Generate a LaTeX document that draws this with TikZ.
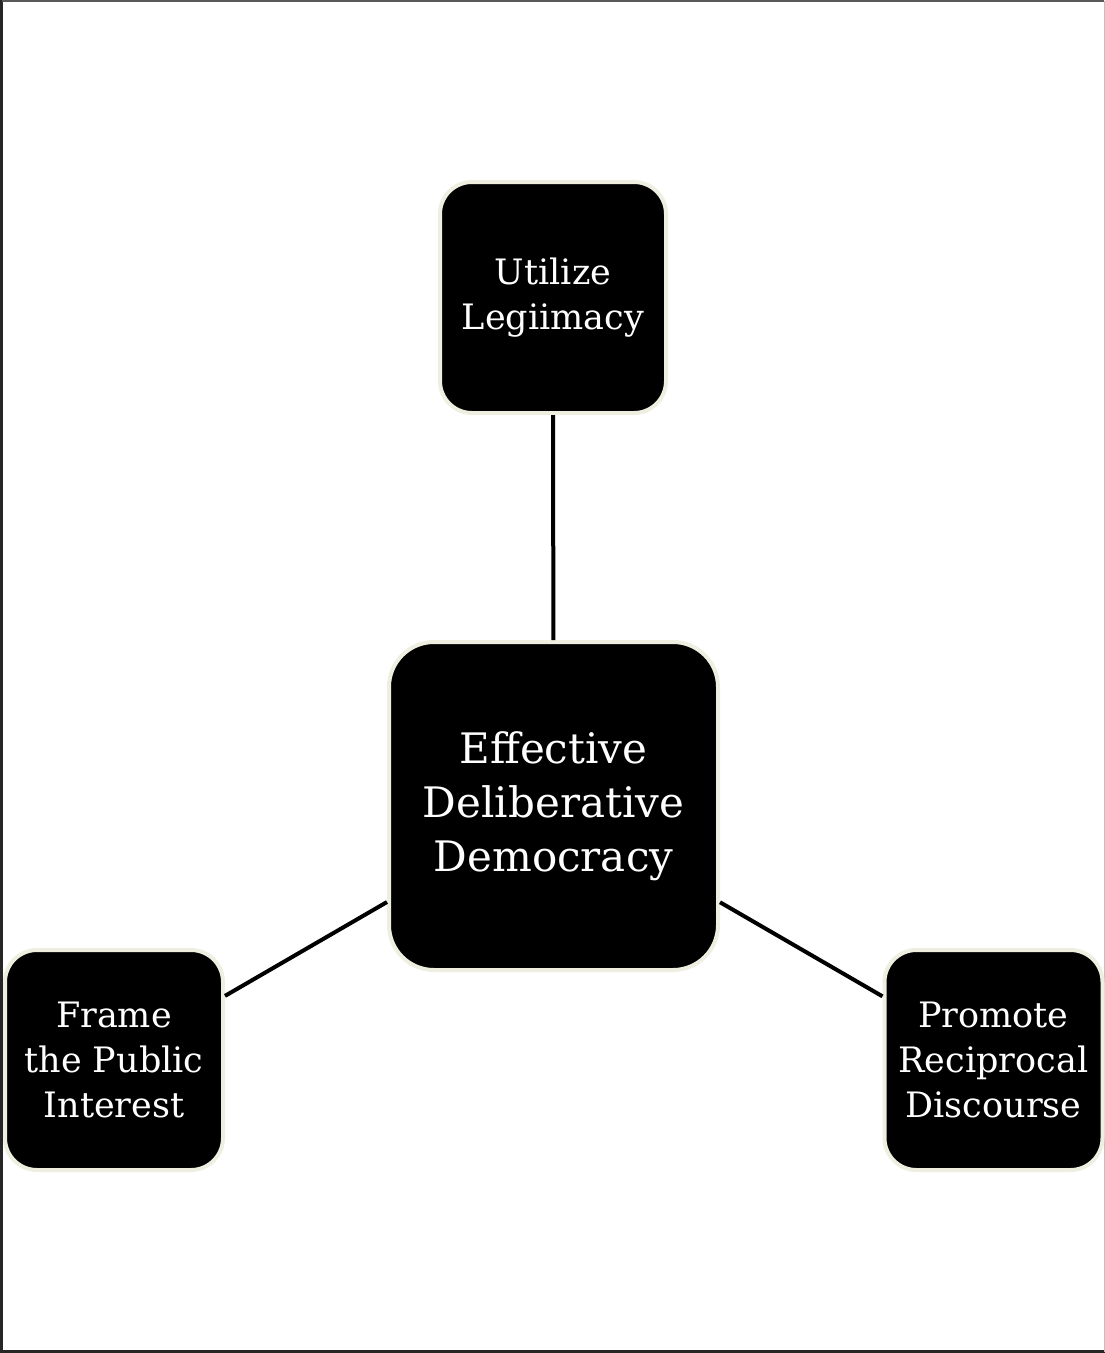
\documentclass[tikz,border=0pt]{standalone}
\usepackage{fontspec}
\setmainfont{DejaVu Serif}
\definecolor{cream}{RGB}{238,238,225}
\begin{document}
\begin{tikzpicture}[x=1pt,y=-1pt,
  box/.style={draw=cream, line width=4pt, fill=black, text=white, align=center, inner sep=0pt},
  smallbox/.style={box, rounded corners=32pt, font=\fontsize{35}{45}\selectfont},
  bigbox/.style={box, rounded corners=45pt, font=\fontsize{42}{54}\selectfont},
  link/.style={line width=4pt, black}]
\useasboundingbox (0,0) rectangle (1105,1353);
\draw[line width=2.5pt, black!85] (1.5,0) -- (1.5,1351.5) -- (1105,1351.5);
\draw[line width=1.5pt, black!65] (1.5,0.75) -- (1104.25,0.75);
\draw[line width=1.5pt, black!25] (1104.25,0.75) -- (1104.25,1351.5);

\node[bigbox, minimum width=329pt, minimum height=328pt] (c) at (553.5,806) {Effective\\Deliberative\\Democracy};
\node[smallbox, minimum width=226pt, minimum height=231pt] (t) at (553,297.5) {Utilize\\Legiimacy};
\node[smallbox, minimum width=218pt, minimum height=220pt] (l) at (114,1060) {Frame\\the Public\\Interest};
\node[smallbox, minimum width=218pt, minimum height=220pt] (r) at (993.5,1060) {Promote\\Reciprocal\\Discourse};

\draw[link] (c) -- (t);
\draw[link] (c) -- (l);
\draw[link] (c) -- (r);
\end{tikzpicture}
\end{document}
